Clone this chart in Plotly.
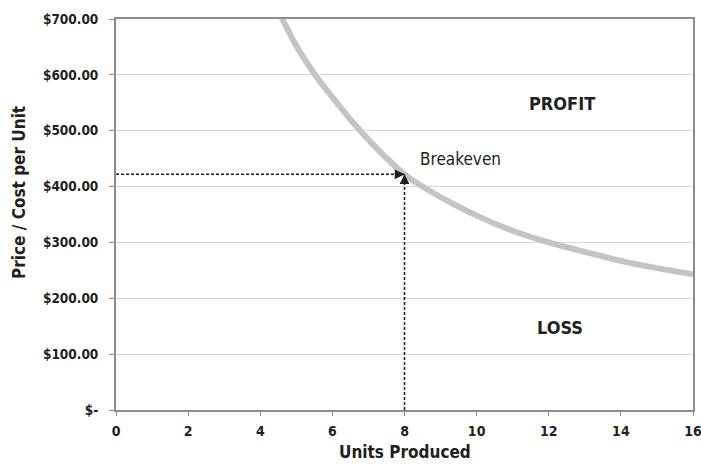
import plotly.graph_objects as go

# Data
units = [4.5, 5, 5.5, 6, 6.5, 7, 7.5, 8, 8.5, 9, 10, 11, 12, 13, 14, 15, 16]
cost_per_unit = [715, 652, 602, 560, 520, 484, 451, 422, 400, 381, 348, 321, 300, 283, 267, 254, 243]
breakeven_x = 8
breakeven_y = 422
x_ticks = [0, 2, 4, 6, 8, 10, 12, 14, 16]
y_ticks = [0, 100, 200, 300, 400, 500, 600, 700]
y_tick_labels = ["$-", "$100.00", "$200.00", "$300.00", "$400.00", "$500.00", "$600.00", "$700.00"]

FONT = "DejaVu Sans Condensed, Roboto, sans-serif"
DARK = "#231f20"
W, H = 701, 467
ML, MR, MT, MB = 116, 8, 19, 57

fig = go.Figure()

fig.add_trace(go.Scatter(
    x=units, y=cost_per_unit, mode="lines",
    line=dict(color="#c4c4c6", width=6, shape="spline"),
    hoverinfo="skip", showlegend=False,
))

# dotted guide lines to the breakeven point
fig.add_trace(go.Scatter(
    x=[0, breakeven_x], y=[breakeven_y, breakeven_y], mode="lines",
    line=dict(color=DARK, width=1.6, dash="3px,2px"), showlegend=False, hoverinfo="skip",
))
fig.add_trace(go.Scatter(
    x=[breakeven_x, breakeven_x], y=[0, breakeven_y], mode="lines",
    line=dict(color=DARK, width=1.6, dash="3px,2px"), showlegend=False, hoverinfo="skip",
))

# arrow heads
fig.add_annotation(x=breakeven_x, y=breakeven_y, ax=-8, ay=0, text="", showarrow=True,
                   arrowhead=2, arrowsize=1.3, arrowwidth=1.5, arrowcolor=DARK)
fig.add_annotation(x=breakeven_x, y=breakeven_y, ax=0, ay=8, text="", showarrow=True,
                   arrowhead=2, arrowsize=1.3, arrowwidth=1.5, arrowcolor=DARK)

fig.add_annotation(x=8.37, y=449, text="Breakeven", showarrow=False, xanchor="left",
                   font=dict(family=FONT, size=17, color=DARK))
fig.add_annotation(x=12.37, y=548, text="<b>PROFIT</b>", showarrow=False,
                   font=dict(family=FONT, size=18, color=DARK))
fig.add_annotation(x=12.3, y=148, text="<b>LOSS</b>", showarrow=False,
                   font=dict(family=FONT, size=18, color=DARK))

# axis titles placed as annotations (pixel-accurate positions)
pw = W - ML - MR
ph = H - MT - MB
fig.add_annotation(xref="paper", yref="paper",
                   x=(19 - ML) / pw, y=(H - MB - 193) / ph,
                   text="<b>Price / Cost per Unit</b>", textangle=-90, showarrow=False,
                   xanchor="center", yanchor="middle",
                   font=dict(family=FONT, size=17, color=DARK))
fig.add_annotation(xref="paper", yref="paper",
                   x=0.5, y=-(452 - (H - MB)) / ph,
                   text="<b>Units Produced</b>", showarrow=False,
                   xanchor="center", yanchor="middle",
                   font=dict(family=FONT, size=17, color=DARK))

fig.update_layout(
    width=W, height=H,
    margin=dict(l=ML, r=MR, t=MT, b=MB),
    paper_bgcolor="white", plot_bgcolor="white",
    font=dict(family=FONT, color=DARK),
)
fig.update_xaxes(
    range=[0, 16], tickvals=x_ticks, ticktext=[f"<b>{v}</b>" for v in x_ticks],
    tickfont=dict(family=FONT, size=14, color=DARK), automargin=False,
    ticks="outside", ticklen=4, tickcolor="#8c8c8c", tickwidth=1,
    showline=True, linecolor="#8c8c8c", linewidth=2, mirror=True,
    showgrid=False, zeroline=False, ticklabelstandoff=3,
    ticklabeloverflow="allow",
)
fig.update_yaxes(
    range=[0, 700], tickvals=y_ticks, ticktext=[f"<b>{t}</b>" for t in y_tick_labels],
    tickfont=dict(family=FONT, size=13.5, color=DARK), automargin=False,
    ticks="outside", ticklen=5, tickcolor="#8c8c8c", tickwidth=1,
    showline=True, linecolor="#8c8c8c", linewidth=2, mirror=True,
    showgrid=True, gridcolor="#d9d9d9", gridwidth=1, zeroline=False,
    ticklabelstandoff=8,
)

fig.write_html("out.html", config={"displayModeBar": False},
               post_script="document.body.style.margin='0';")
